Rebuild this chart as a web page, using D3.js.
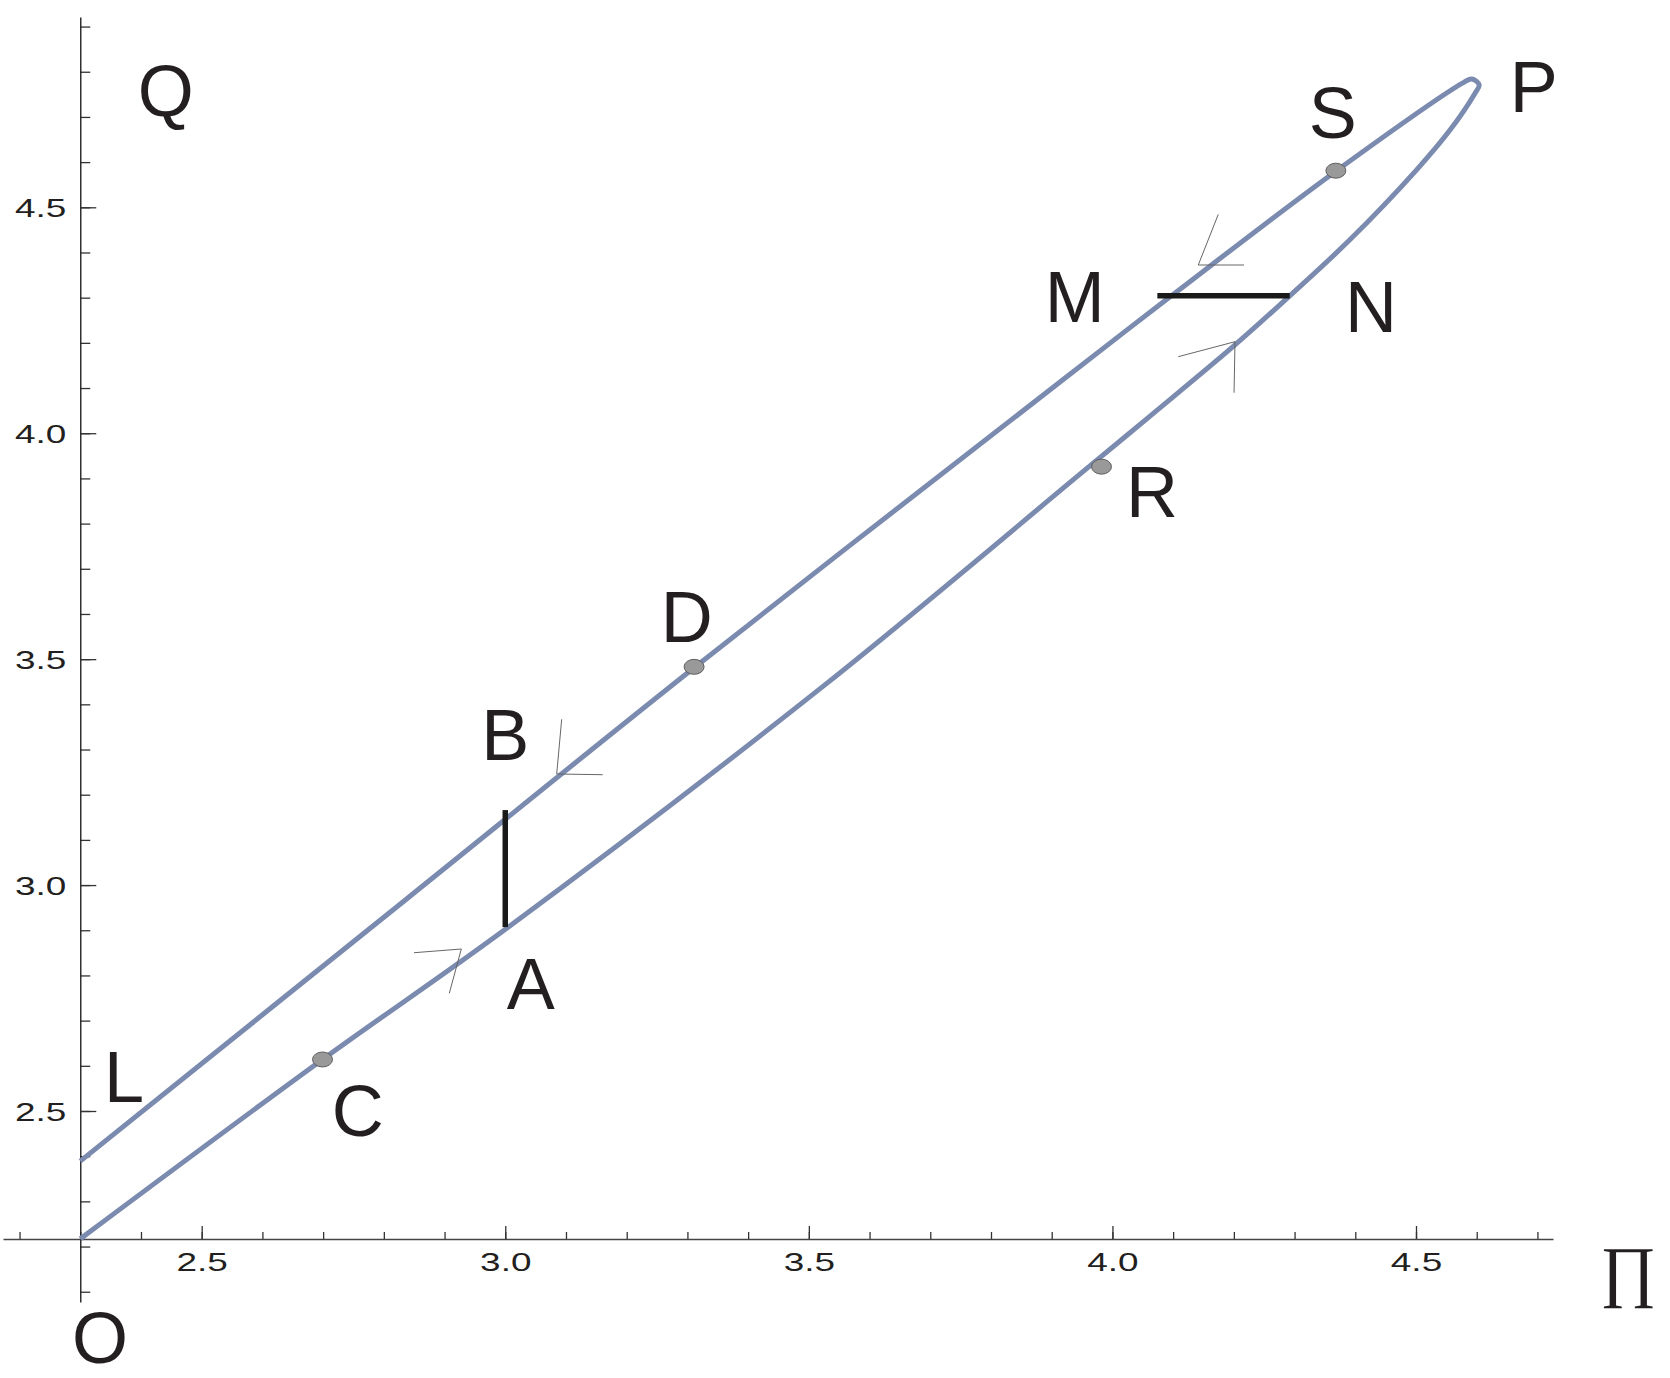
<!DOCTYPE html>
<html>
<head>
<meta charset="utf-8">
<script src="https://cdn.jsdelivr.net/npm/d3@7"></script>
<style>
  html, body { margin: 0; padding: 0; background: #fff; }
  svg { display: block; background: #fff; }
  .lbl { font-family: "Liberation Sans", Arial, sans-serif; font-size: 72px; fill: #231f20; }
  .pi { font-family: "Liberation Serif", "DejaVu Serif", serif; font-size: 68px; fill: #231f20; }
  .tick text { font-family: "Liberation Sans", Arial, sans-serif; font-size: 26px; fill: #231f20; }
  .tick line { stroke: #333; stroke-width: 1.3px; }
  .domain { stroke: #444; stroke-width: 1.6px; }
</style>
</head>
<body>
<svg id="chart" width="1670" height="1378"></svg>
<script>
// loop: upper branch L -> tip (P), then lower branch back to O
const upperBranch = [
  [2.300, 2.389], [2.839, 2.971], [3.311, 3.481], [3.920, 4.120],
  [4.096, 4.303], [4.368, 4.580], [4.578, 4.776], [4.592, 4.784],
  [4.604, 4.771]
];
const lowerBranch = [
  [4.597, 4.752], [4.556, 4.671], [4.501, 4.583], [4.391, 4.428],
  [4.292, 4.304], [4.199, 4.192], [4.062, 4.038], [3.948, 3.911],
  [3.530, 3.447], [3.003, 2.905], [2.699, 2.614], [2.300, 2.217]
];

// marked points on the loop
const dots = [
  { name: "C", x: 2.699, y: 2.614 },
  { name: "D", x: 3.311, y: 3.483 },
  { name: "R", x: 3.982, y: 3.926 },
  { name: "S", x: 4.368, y: 4.581 }
];

// the two black segments (AB vertical, MN horizontal)
const bars = [
  { from: [3.000, 2.907], to: [3.000, 3.166] },
  { from: [4.074, 4.304], to: [4.292, 4.304] }
];

// thin direction arrows: tip + two arm ends
const arrows = [
  { tip: [2.9276, 2.8585], arms: [[2.8497, 2.8503], [2.9078, 2.7605]] },
  { tip: [3.0847, 3.2458], arms: [[3.0929, 3.3669], [3.1605, 3.2443]] },
  { tip: [4.1414, 4.3723], arms: [[4.1744, 4.4845], [4.2167, 4.3723]] },
  { tip: [4.2019, 4.2026], arms: [[4.1085, 4.1694], [4.2003, 4.0897]] }
];

const labels = [
  { text: "Q", x: 2.441, y: 4.702 },
  { text: "P", x: 4.694, y: 4.711 },
  { text: "S", x: 4.363, y: 4.653 },
  { text: "M", x: 3.938, y: 4.246 },
  { text: "N", x: 4.426, y: 4.224 },
  { text: "R", x: 4.065, y: 3.815 },
  { text: "D", x: 3.299, y: 3.538 },
  { text: "B", x: 3.000, y: 3.277 },
  { text: "A", x: 3.042, y: 2.726 },
  { text: "C", x: 2.757, y: 2.445 },
  { text: "L", x: 2.372, y: 2.520 },
  { text: "O", x: 2.3325, y: 1.943 }
];
const axisSymbol = { text: "\u220F", x: 4.849, y: 2.094 };

const xMajor = [2.5, 3.0, 3.5, 4.0, 4.5];
const yMajor = [2.5, 3.0, 3.5, 4.0, 4.5];
const xMinor = d3.range(22, 48).map(d => d / 10);
const yMinor = d3.range(21, 50).map(d => d / 10);
const origin = [2.3, 2.2167];

const svg = d3.select("#chart");

const xs = d3.scaleLinear().domain([2.5, 4.5]).range([201.7, 1416]);
const ys = d3.scaleLinear().domain([2.5, 4.5]).range([1111, 207.3]);

// axes cross at origin, lines run a bit past the tick range
const xAxisScale = xs.copy().domain([xs.invert(3), xs.invert(1553)]).range([3, 1553]);
const yAxisScale = ys.copy().domain([ys.invert(1302), ys.invert(17)]).range([1302, 17]);
const fmt = d3.format(".1f");

const gx = svg.append("g").attr("transform", `translate(0,${ys(origin[1])})`);
gx.append("g")
  .call(d3.axisBottom(xAxisScale).tickValues(xMinor).tickSize(-7).tickSizeOuter(0).tickFormat(""))
  .call(g => g.select(".domain").remove());
gx.append("g")
  .call(d3.axisBottom(xAxisScale).tickValues(xMajor).tickSize(-13).tickSizeOuter(0).tickFormat(fmt))
  .call(g => g.selectAll(".tick text")
    .attr("y", 32).attr("dy", null)
    .attr("transform", "scale(1.42,1)"));

const gy = svg.append("g").attr("transform", `translate(${xs(origin[0])},0)`);
gy.append("g")
  .call(d3.axisLeft(yAxisScale).tickValues(yMinor).tickSize(-10).tickSizeOuter(0).tickFormat(""))
  .call(g => g.select(".domain").remove());
gy.append("g")
  .call(d3.axisLeft(yAxisScale).tickValues(yMajor).tickSize(-16).tickSizeOuter(0).tickFormat(fmt))
  .call(g => g.select(".domain").style("stroke", "#222").style("stroke-width", "1.4px"))
  .call(g => g.selectAll(".tick text")
    .attr("x", -9.9).attr("y", 9).attr("dy", null)
    .attr("transform", "scale(1.42,1)"));

// the loop
const line = d3.line()
  .x(d => xs(d[0]))
  .y(d => ys(d[1]))
  .curve(d3.curveCatmullRom.alpha(0.5));

svg.append("path")
  .datum(upperBranch.concat(lowerBranch))
  .attr("d", line)
  .attr("fill", "none")
  .attr("stroke", "#7b8aaf")
  .attr("stroke-width", 5)
  .attr("stroke-linejoin", "round");

// black segments
svg.selectAll(".bar")
  .data(bars)
  .enter().append("line")
  .attr("class", "bar")
  .attr("x1", d => xs(d.from[0]))
  .attr("y1", d => ys(d.from[1]))
  .attr("x2", d => xs(d.to[0]))
  .attr("y2", d => ys(d.to[1]))
  .attr("stroke", "#1a1a1a")
  .attr("stroke-width", 5.5);

// arrowheads
svg.selectAll(".arrow")
  .data(arrows)
  .enter().append("polyline")
  .attr("class", "arrow")
  .attr("points", d => [d.arms[0], d.tip, d.arms[1]].map(p => `${xs(p[0])},${ys(p[1])}`).join(" "))
  .attr("fill", "none")
  .attr("stroke", "#666")
  .attr("stroke-width", 1);

// dots
svg.selectAll(".dot")
  .data(dots)
  .enter().append("ellipse")
  .attr("class", "dot")
  .attr("cx", d => xs(d.x))
  .attr("cy", d => ys(d.y))
  .attr("rx", 10)
  .attr("ry", 7.5)
  .attr("fill", "#999")
  .attr("stroke", "#555")
  .attr("stroke-width", 0.9);

// letters
svg.selectAll(".lbl")
  .data(labels)
  .enter().append("text")
  .attr("class", "lbl")
  .attr("x", d => xs(d.x))
  .attr("y", d => ys(d.y))
  .attr("text-anchor", "middle")
  .text(d => d.text);

svg.append("text")
  .attr("class", "pi")
  .attr("x", xs(axisSymbol.x))
  .attr("y", ys(axisSymbol.y))
  .attr("text-anchor", "middle")
  .text(axisSymbol.text);
</script>
</body>
</html>
